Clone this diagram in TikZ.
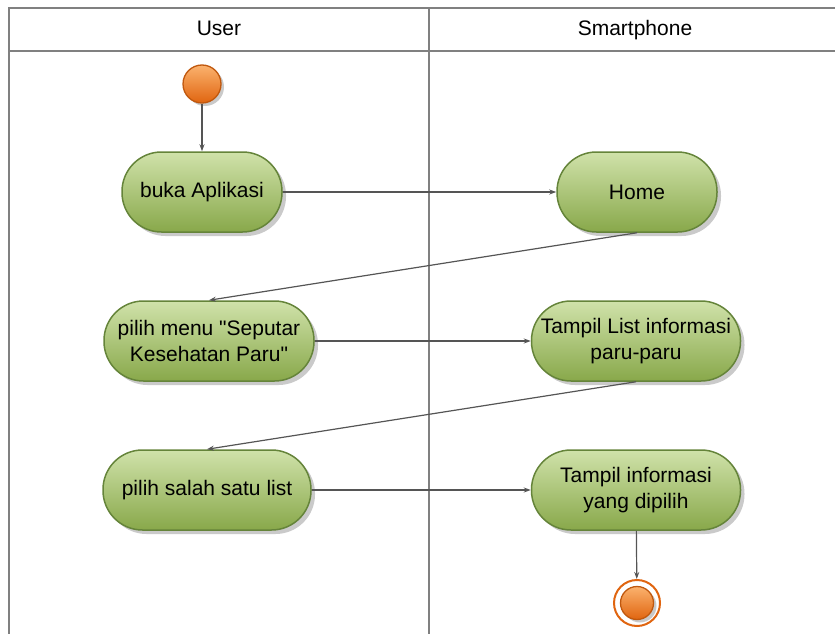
\documentclass[tikz,border=0pt]{standalone}
\usepackage{fontspec}
\setmainfont{Liberation Sans}[Ligatures=TeXOff]
\usetikzlibrary{arrows.meta,shadows,shadings}
\definecolor{laneline}{HTML}{808080}
\definecolor{actTop}{HTML}{D0E2AA}
\definecolor{actBot}{HTML}{88A84A}
\definecolor{actBorder}{HTML}{65843A}
\definecolor{orTop}{HTML}{FBB26E}
\definecolor{orBot}{HTML}{E06510}
\definecolor{orBorder}{HTML}{C0580E}
\definecolor{conn}{HTML}{555555}
\tikzset{
  lane/.style={draw=laneline, line width=2pt},
  act/.style={draw=actBorder, line width=1.5pt, rounded corners=39.5pt,
    top color=actTop, bottom color=actBot, minimum height=80pt,
    align=center, inner sep=2pt, font=\fontsize{21}{26}\selectfont,
    drop shadow={shadow xshift=4pt, shadow yshift=-4pt, fill=black!35, opacity=0.6}},
  startnode/.style={circle, draw=orBorder, line width=1.3pt, minimum size=38pt,
    top color=orTop, bottom color=orBot, inner sep=0pt,
    drop shadow={shadow xshift=3pt, shadow yshift=-3pt, fill=black!35, opacity=0.6}},
  conn/.style={draw=conn, line width=1.2pt, -{Stealth[length=7pt,width=5pt]}},
  lanetext/.style={font=\fontsize{21}{25}\selectfont, text height=15pt, text depth=4pt}
}
\begin{document}
\begin{tikzpicture}[x=1pt,y=-1pt]
\useasboundingbox (0,0) rectangle (835,634);
% swimlanes
\draw[lane] (835,8) -- (9,8) -- (9,634);
\draw[lane] (9,51) -- (835,51);
\draw[lane] (429,8) -- (429,634);
\node[lanetext] (lu) at (219,30) {User};
\node[lanetext] (ls) at (635,30) {Smartphone};
% nodes
\node[startnode] (start) at (202,84) {};
\node[act, minimum width=160pt] (buka) at (202,192) {buka Aplikasi};
\node[act, minimum width=160pt] (home) at (637,192) {Home};
\node[act, minimum width=210pt] (menu) at (209,341) {pilih menu "Seputar\\Kesehatan Paru"};
\node[act, minimum width=209pt] (list) at (636,341) {Tampil List informasi\\paru-paru};
\node[act, minimum width=208pt] (pilih) at (207,490) {pilih salah satu list};
\node[act, minimum width=209pt] (info) at (636,490) {Tampil informasi\\yang dipilih};
\node[circle, draw=orBot, line width=2pt, fill=white, minimum size=46pt, inner sep=0pt] (end) at (637,603) {};
\node[startnode, minimum size=33pt, drop shadow={shadow xshift=0pt, shadow yshift=0pt, opacity=0}] (endin) at (637,603) {};
% connectors
\draw[conn] (start) -- (buka);
\draw[conn] (buka) -- (home);
\draw[conn] (home.south) -- (menu.north);
\draw[conn] (menu) -- (list);
\draw[conn] (list.south) -- (pilih.north);
\draw[conn] (pilih) -- (info);
\draw[conn] (info) -- (end);
\end{tikzpicture}
\end{document}
